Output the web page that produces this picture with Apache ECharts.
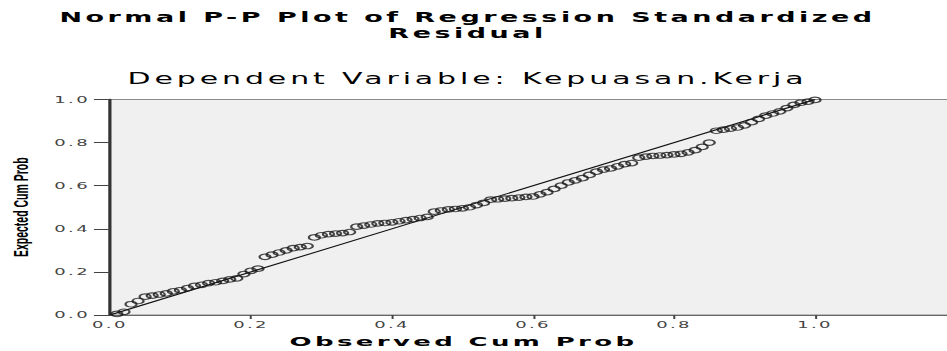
<!DOCTYPE html>
<html>
<head>
<meta charset="utf-8">
<script src="https://cdn.jsdelivr.net/npm/echarts@6/dist/echarts.min.js"></script>
<style>
  html, body { margin: 0; padding: 0; background: #fff; overflow: hidden; width: 947px; height: 351px; }
  /* the plot is laid out at half width and widened to the full 947px */
  #chart { width: 474px; height: 351px; transform: scaleX(1.99789); transform-origin: 0 0; }
</style>
</head>
<body>
<div id="chart"></div>
<script>
const titleText = 'Normal P-P Plot of Regression Standardized\nResidual';
const subtitleText = 'Dependent Variable: Kepuasan.Kerja';
const xAxisName = 'Observed Cum Prob';
const yAxisName = 'Expected Cum Prob';
const tickValues = [0, 0.2, 0.4, 0.6, 0.8, 1.0];

// observed cumulative probability of each standardized residual (rank / n)
const observedCumProb = [
  0.01, 0.02, 0.03, 0.04, 0.05, 0.06, 0.07, 0.08, 0.09, 0.10,
  0.11, 0.12, 0.13, 0.14, 0.15, 0.16, 0.17, 0.18, 0.19, 0.20,
  0.21, 0.22, 0.23, 0.24, 0.25, 0.26, 0.27, 0.28, 0.29, 0.30,
  0.31, 0.32, 0.33, 0.34, 0.35, 0.36, 0.37, 0.38, 0.39, 0.40,
  0.41, 0.42, 0.43, 0.44, 0.45, 0.46, 0.47, 0.48, 0.49, 0.50,
  0.51, 0.52, 0.53, 0.54, 0.55, 0.56, 0.57, 0.58, 0.59, 0.60,
  0.61, 0.62, 0.63, 0.64, 0.65, 0.66, 0.67, 0.68, 0.69, 0.70,
  0.71, 0.72, 0.73, 0.74, 0.75, 0.76, 0.77, 0.78, 0.79, 0.80,
  0.81, 0.82, 0.83, 0.84, 0.85, 0.86, 0.87, 0.88, 0.89, 0.90,
  0.91, 0.92, 0.93, 0.94, 0.95, 0.96, 0.97, 0.98, 0.99, 1.00
];

// expected cumulative probability under the normal distribution
const expectedCumProb = [
  0.005, 0.015, 0.050, 0.065, 0.085, 0.090, 0.095, 0.100, 0.110, 0.115,
  0.125, 0.135, 0.140, 0.148, 0.152, 0.158, 0.165, 0.170, 0.190, 0.205,
  0.215, 0.270, 0.280, 0.290, 0.300, 0.310, 0.315, 0.320, 0.360, 0.370,
  0.375, 0.378, 0.380, 0.385, 0.410, 0.415, 0.420, 0.425, 0.427, 0.430,
  0.435, 0.440, 0.445, 0.450, 0.455, 0.480, 0.485, 0.490, 0.492, 0.495,
  0.500, 0.510, 0.520, 0.535, 0.537, 0.540, 0.542, 0.545, 0.548, 0.550,
  0.560, 0.570, 0.585, 0.600, 0.615, 0.625, 0.635, 0.650, 0.665, 0.675,
  0.680, 0.690, 0.700, 0.705, 0.730, 0.735, 0.738, 0.740, 0.742, 0.745,
  0.748, 0.755, 0.765, 0.780, 0.800, 0.855, 0.860, 0.865, 0.870, 0.880,
  0.895, 0.910, 0.925, 0.935, 0.945, 0.960, 0.975, 0.985, 0.990, 0.998
];

// diagonal of a perfectly normal residual distribution
const referenceLine = [[0, 0], [1, 1]];

const points = observedCumProb.map((x, i) => [x, expectedCumProb[i]]);
const fmt = v => v.toFixed(1);
const FONT = 'DejaVu Sans, sans-serif';
const NARROW = 'Liberation Sans, Arial, sans-serif';

const chart = echarts.init(document.getElementById('chart'), null, { renderer: 'svg' });

chart.on('finished', () => {
  // SPSS-style tracking on horizontal text; the rotated axis name stays tight
  document.querySelectorAll('#chart text').forEach(t => {
    if (t.textContent !== yAxisName) t.setAttribute('letter-spacing', '0.13em');
  });
});

chart.setOption({
  animation: false,
  backgroundColor: '#ffffff',
  title: [
    {
      text: titleText, left: 234, top: 9, padding: 0, textAlign: 'center',
      textStyle: { fontFamily: FONT, fontWeight: 'bold', fontSize: 13.5, lineHeight: 16, color: '#000' }
    },
    {
      text: subtitleText, left: 234, top: 71, padding: 0, textAlign: 'center',
      textStyle: { fontFamily: FONT, fontWeight: 'normal', fontSize: 15, lineHeight: 16, color: '#000' }
    },
    {
      text: xAxisName, left: 232, top: 335, padding: 0, textAlign: 'center',
      textStyle: { fontFamily: FONT, fontWeight: 'bold', fontSize: 13, lineHeight: 14, color: '#000' }
    }
  ],
  grid: {
    left: 55, right: -1, top: 99.5, bottom: 36,
    outerBoundsMode: 'none',
    show: true, backgroundColor: '#f0f0f0', borderColor: '#8a8a8a', borderWidth: 1
  },
  xAxis: {
    type: 'value', min: 0, max: 1.19, interval: 0.2,
    axisLine: { show: true, onZero: false, lineStyle: { color: '#666', width: 1 } },
    axisTick: { show: true, length: 4, customValues: tickValues.slice(1), lineStyle: { color: '#444' } },
    axisLabel: { customValues: tickValues, formatter: fmt, margin: 5, fontSize: 9, color: '#444', fontFamily: FONT },
    splitLine: { show: false }
  },
  yAxis: {
    type: 'value', min: 0, max: 1, interval: 0.2,
    name: yAxisName, nameLocation: 'middle', nameGap: 39, nameRotate: 90,
    nameTextStyle: { fontFamily: NARROW, fontWeight: 'bold', fontSize: 10.5, color: '#000' },
    axisLine: { show: true, onZero: false, lineStyle: { color: '#333', width: 1.6 } },
    axisTick: { show: true, length: 8, lineStyle: { color: '#444' } },
    axisLabel: { formatter: fmt, margin: 10, fontSize: 9, color: '#444', fontFamily: FONT },
    splitLine: { show: false }
  },
  series: [
    {
      type: 'line', data: referenceLine, symbol: 'none', silent: true, z: 2,
      lineStyle: { color: '#111', width: 1 }
    },
    {
      type: 'scatter', data: points, symbol: 'circle', symbolSize: 5.5, z: 3,
      itemStyle: { color: 'rgba(0,0,0,0)', borderColor: '#1a1a1a', borderWidth: 1.1 }
    }
  ]
});
</script>
</body>
</html>
